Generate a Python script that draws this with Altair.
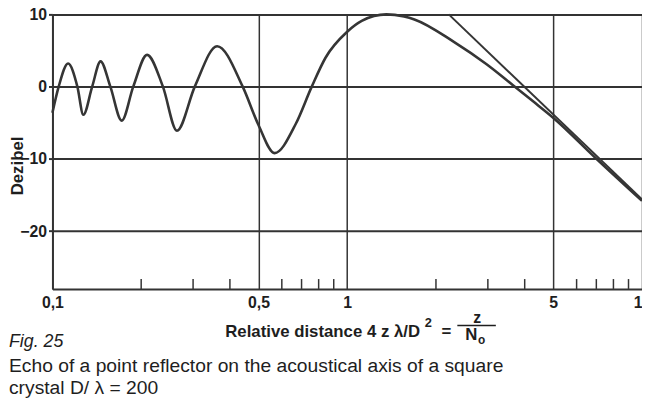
import altair as alt
import pandas as pd

# ---- data ----
curve_x = [0.100, 0.105, 0.113, 0.1215, 0.1273, 0.1364, 0.1456, 0.1572, 0.1718,
           0.188, 0.2094, 0.237, 0.2645, 0.304, 0.362, 0.442, 0.50, 0.567,
           0.67, 0.758, 0.844, 1.0, 1.12, 1.357, 1.56, 1.69, 2.30, 2.97,
           3.65, 4.26, 5.03, 6.93, 10.0]
curve_db = [-3.6, 0.0, 3.2, 0.0, -3.9, 0.0, 3.5, 0.0, -4.7,
            0.0, 4.4, 0.0, -6.1, 0.0, 5.6, 0.0, -5.3, -9.2,
            -5.1, 0.0, 4.0, 7.6, 9.1, 10.0, 9.7, 9.3, 6.2, 3.1,
            0.2, -2.0, -4.4, -9.8, -15.8]
asym_x = [2.21, 10.0]
asym_db = [10.0, -15.6]
minor_ticks = [0.2, 0.3, 0.4, 0.6, 0.7, 0.8, 0.9, 2, 3, 4, 6, 7, 8, 9]
x_tick_values = [0.1, 0.5, 1, 5, 10]
y_tick_values = [-20, -10, 0, 10]
x_domain = [0.1, 10]
y_domain = [-28, 10]

y_title = "Dezibel"
x_title_main = "Relative distance 4 z \u03bb/D"
x_title_sup = "2"
x_title_eq = "="
frac_num = "z"
frac_den = "N"
frac_den_sub = "o"
fig_label = "Fig. 25"
caption_1 = "Echo of a point reflector on the acoustical axis of a square"
caption_2 = "crystal D/ \u03bb = 200"

# ---- layout ----
W, H = 597, 278
INK = "#333333"
TXT = "#1e1e1e"
SANS = "Liberation Sans, Arial, sans-serif"

curve_df = pd.DataFrame({"x": curve_x, "db": curve_db})
asym_df = pd.DataFrame({"x": asym_x, "db": asym_db})
minor_df = pd.DataFrame({"x": minor_ticks})

xscale = alt.Scale(type="log", domain=x_domain, nice=False)
yscale = alt.Scale(domain=y_domain, nice=False, zero=False)

x_axis = alt.Axis(
    values=x_tick_values, grid=True, gridColor=INK, gridWidth=1.5, gridOpacity=1,
    ticks=False, domain=True, domainColor=INK, domainWidth=2,
    labelExpr="replace(format(datum.value, ''), '.', ',')",
    labelFont=SANS, labelFontSize=16, labelFontWeight="bold", labelColor=TXT,
    labelPadding=6, labelFlush=False, labelOverlap=False, title=None,
)
y_axis = alt.Axis(
    values=y_tick_values, grid=True, gridColor=INK, gridWidth=2, gridOpacity=1,
    ticks=True, tickSize=4, tickColor=INK, tickWidth=2,
    domain=True, domainColor=INK, domainWidth=2,
    labelFont=SANS, labelFontSize=16, labelFontWeight="bold", labelColor=TXT,
    labelPadding=2, labelFlush=False, labelOverlap=False,
    title=y_title, titleFont=SANS, titleFontSize=17, titleFontWeight="bold",
    titleColor=TXT, titleX=-35, titleY=153, titleAngle=270,
    titleAlign="center", titleBaseline="middle",
)

curve = alt.Chart(curve_df).mark_line(
    interpolate="monotone", color="#353535", strokeWidth=2.6
).encode(
    x=alt.X("x:Q", scale=xscale, axis=x_axis),
    y=alt.Y("db:Q", scale=yscale, axis=y_axis),
)

asym = alt.Chart(asym_df).mark_line(color="#353535", strokeWidth=2).encode(
    x=alt.X("x:Q", scale=xscale, axis=x_axis),
    y=alt.Y("db:Q", scale=yscale, axis=y_axis),
)

minor = alt.Chart(minor_df).mark_rule(color=INK, strokeWidth=1.5).encode(
    x=alt.X("x:Q", scale=xscale, axis=x_axis),
    y=alt.value(H),
    y2=alt.value(H - 10),
)


def text_layer(s, x, y, size, weight="normal", style="normal", font=SANS, align="left"):
    return alt.Chart(pd.DataFrame({"t": [s]})).mark_text(
        align=align, baseline="alphabetic", font=font, fontSize=size,
        fontWeight=weight, fontStyle=style, color=TXT,
    ).encode(text="t:N", x=alt.value(x), y=alt.value(y))


title_main = text_layer(x_title_main, 175, 327, 17, weight="bold")
title_sup = text_layer(x_title_sup, 377, 317, 13, weight="bold")
title_eq = text_layer(x_title_eq, 394, 327, 17, weight="bold")
num = text_layer(frac_num, 430, 312, 16, weight="bold", align="center")
den = text_layer(frac_den, 418, 330, 17, weight="bold")
den_sub = text_layer(frac_den_sub, 431, 334, 12, weight="bold")
frac_line = alt.Chart(pd.DataFrame({"t": [0]})).mark_rule(color=TXT, strokeWidth=1.5).encode(
    x=alt.value(410), x2=alt.value(449), y=alt.value(315)
)
fig = text_layer(fig_label, -44, 337, 18, style="italic")
cap1 = text_layer(caption_1, -44, 362, 19.5)
cap2 = text_layer(caption_2, -44, 384, 19.5)

chart = alt.layer(
    curve, asym, minor, title_main, title_sup, title_eq, num, den, den_sub,
    frac_line, fig, cap1, cap2,
).properties(
    width=W, height=H,
    autosize=alt.AutoSizeParams(type="none"),
    padding={"left": 45, "top": 4, "right": 0, "bottom": 111},
    background="white",
).configure_view(stroke=None)

chart.save("out.html", embed_options={"renderer": "svg", "actions": False})
